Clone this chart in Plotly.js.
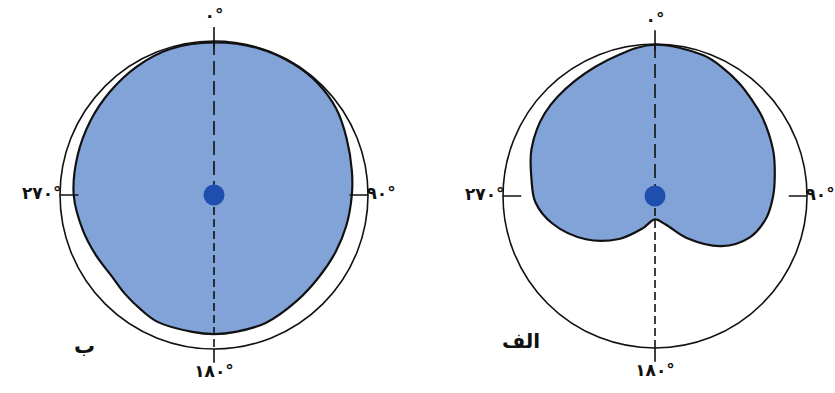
<!DOCTYPE html>
<html>
<head>
<meta charset="utf-8">
<script src="https://cdn.plot.ly/plotly-3.0.1.min.js"></script>
<style>html,body{margin:0;padding:0;background:#fff;}#chart{width:835px;height:393px;}</style>
</head>
<body>
<div id="chart"></div>
<script>
// Angular tick positions and labels (Persian digits)
const tickAngles = [0, 90, 180, 270];
const tickLabels = ['۰°', '۹۰°', '۱۸۰°', '۲۷۰°'];

// Panel labels
const panelLeft = 'ب';
const panelRight = 'الف';

// Left pattern (ب): angle in degrees (clockwise from top), relative sensitivity
const thetaB = [0, 17, 31, 43, 55, 67, 80, 90, 103, 115, 128, 142, 158, 171, 180, 189, 204, 212, 222, 232, 243, 255, 270, 286, 301, 315, 329, 343, 360];
const rB = [0.99, 0.995, 0.995, 0.99, 0.971, 0.936, 0.909, 0.895, 0.882, 0.872, 0.865, 0.873, 0.896, 0.9, 0.903, 0.9, 0.902, 0.884, 0.864, 0.848, 0.861, 0.882, 0.911, 0.922, 0.936, 0.952, 0.973, 0.99, 0.99];

// Right pattern (الف): cardioid
const thetaA = [0, 19, 28, 37, 45, 54, 69, 80, 90, 101, 114, 127, 143, 159, 180, 201, 220, 238, 255, 267, 278, 291, 307, 325, 346, 360];
const rA = [0.995, 0.979, 0.953, 0.925, 0.898, 0.875, 0.833, 0.8, 0.777, 0.747, 0.677, 0.548, 0.346, 0.203, 0.154, 0.228, 0.369, 0.537, 0.699, 0.788, 0.821, 0.87, 0.907, 0.923, 0.96, 0.995];

const FILL = '#82a3d8';
const DOT = '#1f4fae';
const INK = '#111111';
const FONT = 'DejaVu Sans';

function tracesFor(subplot, theta, r) {
  return [
    { type: 'scatterpolar', subplot: subplot, theta: theta, r: r, mode: 'lines',
      fill: 'toself', fillcolor: FILL, line: { color: INK, width: 2.2, shape: 'spline' },
      hoverinfo: 'skip', showlegend: false },
    { type: 'scatterpolar', subplot: subplot, theta: [0, 0], r: [1, 0], mode: 'lines',
      line: { color: INK, width: 1.6, dash: '14px,6px' }, hoverinfo: 'skip', showlegend: false },
    { type: 'scatterpolar', subplot: subplot, theta: [180, 180], r: [0, 1], mode: 'lines',
      line: { color: INK, width: 1.6, dash: '8px,4px' }, hoverinfo: 'skip', showlegend: false },
    { type: 'scatterpolar', subplot: subplot, theta: [0, 0, null, 180, 180], r: [0.96, 1.09, null, 1, 1.09],
      mode: 'lines', line: { color: INK, width: 1.6 }, hoverinfo: 'skip', showlegend: false },
    { type: 'scatterpolar', subplot: subplot, theta: [90, 90, null, 270, 270], r: [0.88, 1, null, 0.88, 1],
      mode: 'lines', line: { color: INK, width: 1.6 }, hoverinfo: 'skip', showlegend: false },
    { type: 'scatterpolar', subplot: subplot, theta: [0], r: [0], mode: 'markers',
      marker: { color: DOT, size: 21 }, hoverinfo: 'skip', showlegend: false },
    { type: 'scatterpolar', subplot: subplot, theta: tickAngles, r: [1.1, 0.99, 1.1, 0.99], mode: 'text',
      text: tickLabels, textposition: ['top center', 'middle right', 'bottom center', 'middle left'],
      textfont: { family: FONT, size: 17, color: INK, weight: 'bold' }, cliponaxis: false,
      hoverinfo: 'skip', showlegend: false }
  ];
}

const data = tracesFor('polar', thetaB, rB).concat(tracesFor('polar2', thetaA, rA));

function polarCfg(dx, dy) {
  return {
    domain: { x: dx, y: dy },
    bgcolor: 'rgba(0,0,0,0)',
    radialaxis: { range: [0, 1.1], tickvals: [1], showticklabels: false, ticks: '',
      showgrid: true, gridcolor: INK, gridwidth: 1.6, showline: false },
    angularaxis: { direction: 'clockwise', rotation: 90, tickvals: tickAngles,
      showticklabels: false, ticks: '', showgrid: false, showline: false }
  };
}

const layout = {
  width: 835, height: 393,
  margin: { l: 0, r: 0, t: 0, b: 0 },
  paper_bgcolor: '#ffffff',
  showlegend: false,
  polar: polarCfg([0.0534, 0.4592], [0.0728, 0.9349]),
  polar2: polarCfg([0.5842, 0.9847], [0.0758, 0.9267]),
  annotations: [
    { text: panelLeft, xref: 'paper', yref: 'paper', x: 0.086, y: 0.085, showarrow: false,
      font: { family: FONT, size: 21, color: INK, weight: 'bold' } },
    { text: panelRight, xref: 'paper', yref: 'paper', x: 0.624, y: 0.097, showarrow: false,
      font: { family: FONT, size: 20, color: INK, weight: 'bold' } }
  ]
};

Plotly.newPlot('chart', data, layout, { staticPlot: true, displayModeBar: false });
</script>
</body>
</html>
